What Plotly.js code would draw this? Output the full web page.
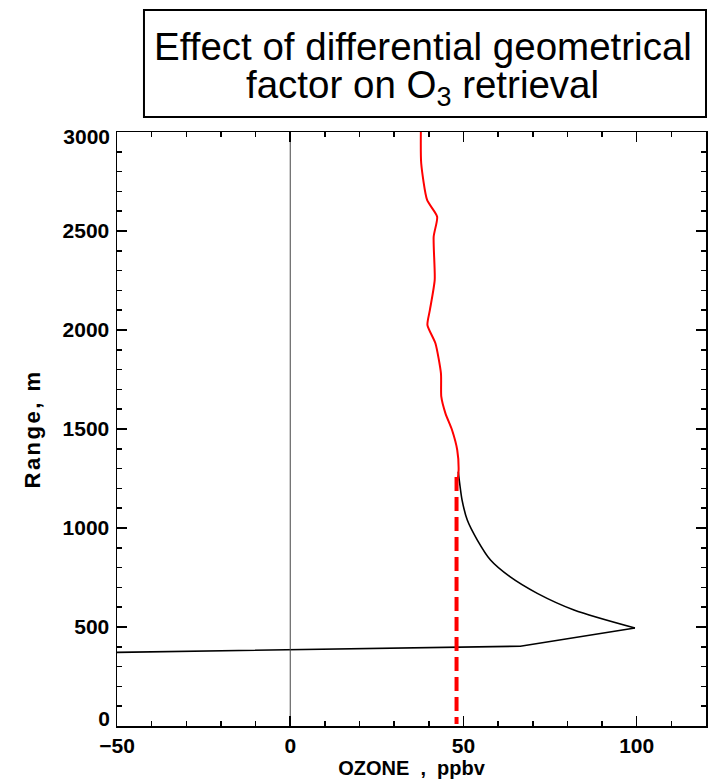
<!DOCTYPE html>
<html>
<head>
<meta charset="utf-8">
<script src="https://cdn.plot.ly/plotly-3.0.1.min.js"></script>
<style>html,body{margin:0;padding:0;background:#fff}#chart{width:710px;height:781px}</style>
</head>
<body>
<div id="chart"></div>
<script>
// Red retrieved profile (upper part)
const redOzone = [37.7, 37.8, 39.5, 42.4, 41.4, 41.7, 40.3, 39.6, 41.9, 43.5, 43.6, 44.8, 46.7, 48.2, 48.6, 48.3];
const redRange = [3000, 2842, 2657, 2572, 2471, 2253, 2100, 2025, 1933, 1781, 1663, 1579, 1495, 1394, 1293, 1240];
// Black profile: curved part down to the peak
const blackCurveOzone = [48.5, 48.9, 49.6, 51.1, 54.0, 57.8, 63.4, 71.3, 81.9, 99.5];
const blackCurveRange = [1284, 1226, 1141, 1040, 939, 838, 754, 670, 586, 495];
// Black profile: straight part below the peak
const blackLowOzone = [99.5, 66.4, -50];
const blackLowRange = [495, 403, 372];
// Red dashed reference
const dashOzone = [48, 48];
const dashRange = [1258, 10];
// Zero line
const zeroOzone = [0, 0];
const zeroRange = [0, 3000];
// Tick labels
const xTickVals = [-50, 0, 50, 100];
const xTickText = ['\u221250', '0', '50', '100'];
const yTickValsMid = [500, 1000, 1500, 2000, 2500];
const yTickBottom = [0];
const yTickTop = [3000];

const tickFont = {family: 'Liberation Sans', size: 21, weight: 'bold', color: '#000'};
const titleFont = {family: 'Liberation Sans', size: 20, weight: 'bold', color: '#000'};
const yRange = [0, 3000];

const traces = [
  {x: zeroOzone, y: zeroRange, yaxis: 'y2', mode: 'lines', line: {color: '#444', width: 1}},
  {x: dashOzone, y: dashRange, yaxis: 'y3', mode: 'lines', line: {color: '#ff0000', width: 4, dash: '14px,6px'}},
  {x: blackCurveOzone, y: blackCurveRange, mode: 'lines', line: {color: '#000', width: 1.6, shape: 'spline', smoothing: 0.8}},
  {x: blackLowOzone, y: blackLowRange, mode: 'lines', line: {color: '#000', width: 1.6}},
  {x: redOzone, y: redRange, mode: 'lines', line: {color: '#ff0000', width: 2, shape: 'spline', smoothing: 0.6}}
];

const sideAxis = (vals, shift) => ({
  overlaying: 'y', anchor: 'x', side: 'left', range: yRange,
  showgrid: false, zeroline: false, showline: false, ticks: '',
  tickvals: vals, tickfont: tickFont, ticklabelshift: shift, ticklabelstandoff: 6
});

const layout = {
  width: 710, height: 781,
  margin: {l: 117, r: 4, t: 132, b: 55},
  paper_bgcolor: '#fff', plot_bgcolor: '#fff',
  showlegend: false,
  xaxis: {
    range: [-50, 120], showgrid: false, zeroline: false,
    showline: true, linecolor: '#000', linewidth: 1.5, mirror: 'ticks',
    ticks: 'inside', ticklen: 10, tickwidth: 1.5, tickcolor: '#000',
    tickvals: xTickVals, ticktext: xTickText,
    minor: {ticks: 'inside', ticklen: 5, tickwidth: 1.5, tickcolor: '#000', dtick: 10, tick0: 0},
    tickfont: tickFont,
    title: {text: 'OZONE  ,  ppbv', font: titleFont, standoff: 2}
  },
  yaxis: {
    range: yRange, showgrid: false, zeroline: false,
    showline: true, linecolor: '#000', linewidth: 1.5, mirror: 'ticks',
    ticks: 'inside', ticklen: 10, tickwidth: 1.5, tickcolor: '#000',
    tickvals: yTickValsMid, ticklabelstandoff: 2,
    minor: {ticks: 'inside', ticklen: 5, tickwidth: 1.5, tickcolor: '#000', dtick: 100, tick0: 0},
    tickfont: tickFont,
    title: {text: '<span style="letter-spacing:2.5px">Range, m</span>', font: {family: 'Liberation Sans', size: 22, weight: 'bold', color: '#000'}, standoff: 16}
  },
  yaxis2: sideAxis(yTickBottom, -7),
  yaxis3: sideAxis(yTickTop, 5),
  shapes: [
    {type: 'rect', xref: 'paper', yref: 'paper', x0: 0.0458, x1: 1.0, y0: 1.0253, y1: 1.2054,
     line: {color: '#000', width: 2}, fillcolor: 'rgba(0,0,0,0)'}
  ],
  annotations: [
    {xref: 'paper', yref: 'paper', x: 0.5187, y: 1.1439, yanchor: 'middle', showarrow: false,
     text: 'Effect of differential geometrical',
     font: {family: 'Liberation Sans', size: 38.5, color: '#000'}},
    {xref: 'paper', yref: 'paper', x: 0.5187, y: 1.0757, yanchor: 'middle', showarrow: false,
     text: 'factor on O<sub>3</sub> retrieval',
     font: {family: 'Liberation Sans', size: 38.5, color: '#000'}}
  ]
};

Plotly.newPlot('chart', traces, layout, {displayModeBar: false, staticPlot: true});
</script>
</body>
</html>
